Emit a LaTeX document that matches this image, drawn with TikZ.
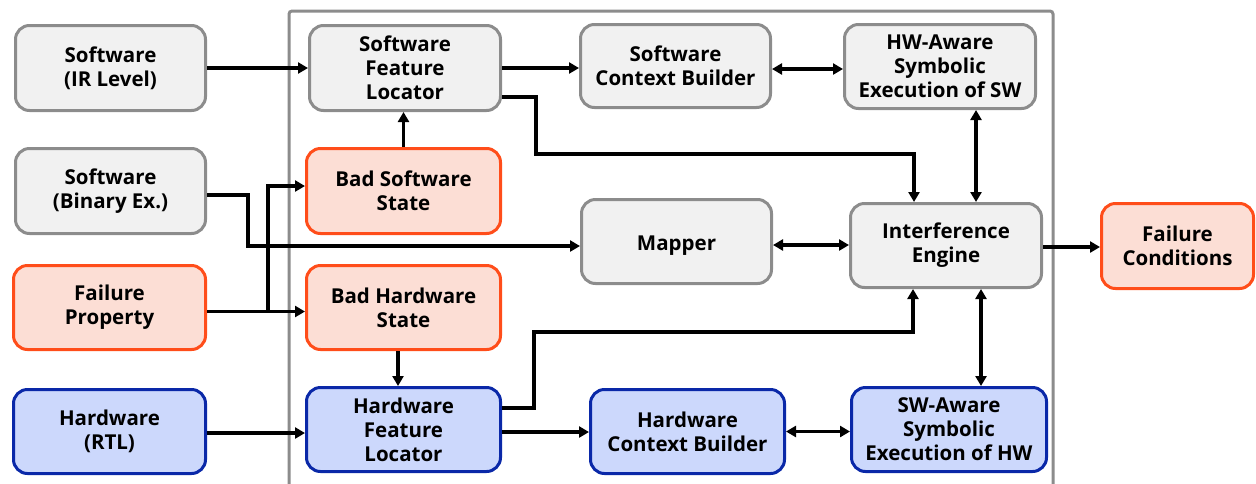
\documentclass[tikz,border=0pt]{standalone}
\usepackage{fontspec}
\setmainfont{Open Sans}
\usetikzlibrary{arrows.meta}
\definecolor{gfill}{HTML}{F1F1F1}
\definecolor{gline}{HTML}{8C8C8C}
\definecolor{ofill}{HTML}{FCDED5}
\definecolor{oline}{HTML}{FF4D1A}
\definecolor{bfill}{HTML}{CCD8FC}
\definecolor{bline}{HTML}{0A28A8}
\tikzset{
  blk/.style={rectangle, rounded corners=14pt, line width=3pt, align=center,
    inner sep=0pt, font=\bfseries\fontsize{20.5}{24}\selectfont},
  gbox/.style={blk, draw=gline, fill=gfill},
  obox/.style={blk, draw=oline, fill=ofill},
  bbox/.style={blk, draw=bline, fill=bfill},
  arr/.style={line width=3.3pt, -{Triangle[length=10pt,width=11pt]}},
  darr/.style={line width=3.3pt, {Triangle[length=10pt,width=11pt]}-{Triangle[length=10pt,width=11pt]}},
}
\begin{document}
\begin{tikzpicture}[x=1pt, y=-1pt]
\useasboundingbox (0,0) rectangle (1256,483);
% outer frame of the analysis engine
\draw[gline, line width=3pt, rounded corners=3pt] (289,490) -- (289,11) -- (1053,11) -- (1053,490);

% inputs
\node[gbox, minimum width=190pt, minimum height=85pt] (irl) at (110.5,68) {Software\\(IR Level)};
\node[gbox, minimum width=190pt, minimum height=85pt] (bin) at (110.5,191) {Software\\(Binary Ex.)};
\node[obox, minimum width=192pt, minimum height=84pt] (fprop) at (109.5,307.5) {Failure\\Property};
\node[bbox, minimum width=192pt, minimum height=84pt] (rtl) at (109.5,431.5) {Hardware\\(RTL)};

% first column
\node[gbox, minimum width=191pt, minimum height=85pt] (sfl) at (405,68) {Software\\Feature\\Locator};
\node[obox, minimum width=194pt, minimum height=85pt] (bss) at (403.5,191) {Bad Software\\State};
\node[obox, minimum width=194pt, minimum height=84pt] (bhs) at (403.5,307.5) {Bad Hardware\\State};
\node[bbox, minimum width=194pt, minimum height=84pt] (hfl) at (403.5,429.5) {Hardware\\Feature\\Locator};

% second column
\node[gbox, minimum width=190pt, minimum height=83pt] (scb) at (675.5,66) {Software\\Context Builder};
\node[gbox, minimum width=190pt, minimum height=84pt] (mapper) at (676.5,241.5) {\raisebox{-4pt}[\height][\depth]{Mapper}};
\node[bbox, minimum width=194pt, minimum height=84pt] (hcb) at (687.5,431.5) {Hardware\\Context Builder};

% third column
\node[gbox, minimum width=191pt, minimum height=84pt] (hwsw) at (940,66.5) {HW-Aware\\Symbolic\\Execution of SW};
\node[gbox, minimum width=191pt, minimum height=84pt] (ie) at (946,245.5) {Interference\\Engine};
\node[bbox, minimum width=195pt, minimum height=84pt] (swhw) at (949,429.5) {SW-Aware\\Symbolic\\Execution of HW};

% output
\node[obox, minimum width=152pt, minimum height=85pt] (fc) at (1177.5,246) {Failure\\Conditions};

% connectors
\draw[arr] (irl.east) -- (irl.east -| sfl.west);
\draw[arr] (sfl.east) -- (sfl.east -| scb.west);
\draw[darr] ([yshift=-3pt]scb.east) -- ([yshift=-3pt]scb.east -| hwsw.west);
\draw[darr] ([xshift=36pt]hwsw.south) -- ([xshift=30pt]ie.north);
\draw[arr] ([yshift=-29pt]sfl.east) -- (536,97) -- (536,154) -- (914,154) -- ([xshift=-32pt]ie.north);
\draw[arr] ([yshift=-4pt]bin.east) -- (248,195) -- (248,246) -- ([yshift=-4.5pt]mapper.west);
\draw[arr] ([yshift=-4pt]fprop.east) -- ([yshift=-4pt]bhs.west);
\coordinate (split) at (268,311.5);
\draw[arr] (split) -- (268,186) -- ([yshift=5pt]bss.west);
\draw[arr] (bss.north) -- (bss.north |- sfl.south);
\draw[arr] ([xshift=-5.5pt]bhs.south) -- ([xshift=-5.5pt]bhs.south |- hfl.north);
\draw[arr] ([yshift=-1.5pt]rtl.east) -- ([yshift=-1.5pt]rtl.east -| hfl.west);
\draw[arr] ([yshift=21.5pt]hfl.east) -- (534,408) -- (534,332) -- (913,332) -- ([xshift=-33pt]ie.south);
\draw[arr] ([yshift=-2.5pt]hfl.east) -- ([yshift=-2.5pt]hfl.east -| hcb.west);
\draw[darr] (hcb.east) -- (hcb.east -| swhw.west);
\draw[darr] ([xshift=35pt]ie.south) -- ([xshift=35pt]ie.south |- swhw.north);
\draw[darr] ([yshift=-3.5pt]mapper.east) -- ([yshift=-3.5pt]mapper.east -| ie.west);
\draw[arr] ([yshift=-1.5pt]ie.east) -- ([yshift=-1.5pt]ie.east -| fc.west);
\end{tikzpicture}
\end{document}
